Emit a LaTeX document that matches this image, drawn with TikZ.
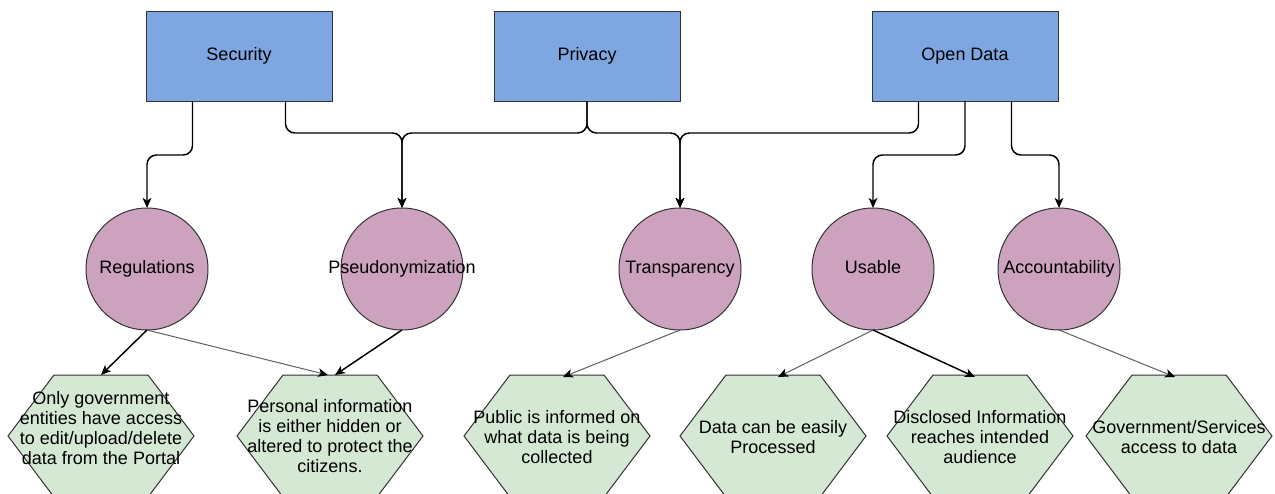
\documentclass[tikz,border=0pt]{standalone}
\usepackage{fontspec}
\setmainfont{Liberation Sans}
\usetikzlibrary{arrows.meta,calc}

\definecolor{boxblue}{RGB}{126,166,224}
\definecolor{circpink}{RGB}{205,162,190}
\definecolor{hexgreen}{RGB}{213,232,212}
\definecolor{edgegray}{RGB}{51,51,51}
\definecolor{thingray}{RGB}{95,95,95}

\tikzset{every picture/.style={line width=0.75pt}}
\tikzset{
  labelfont/.style={font=\fontsize{13.5}{15}\selectfont},
  topbox/.style={labelfont, draw=edgegray, fill=boxblue, minimum width=139.5pt, minimum height=67.5pt, inner sep=0pt, outer sep=0pt},
  goalcirc/.style={labelfont, circle, draw=edgegray, fill=circpink, minimum size=91.5pt, inner sep=0pt, outer sep=0pt, text height=9.5pt, text depth=3pt},
  hexnode/.style={labelfont, align=center, minimum width=139.5pt, minimum height=91.5pt, inner sep=0pt, outer sep=0pt},
  hexshape/.style={draw=edgegray, fill=hexgreen},
  tip/.style={-{Stealth[length=7.5pt,width=6.5pt,inset=2pt,color=black]}},
  link/.style={tip, line width=1.1pt, rounded corners=7},
  strongarrow/.style={tip, line width=1.1pt, draw=black},
  softarrow/.style={tip, line width=0.75pt, draw=thingray}
}

\begin{document}
\begin{tikzpicture}[x=0.75pt,y=0.75pt,yscale=-1,xscale=1]
\useasboundingbox (0,0) rectangle (1275,493);

%Shape: Rectangle
\node[topbox] (sec) at (239,56) {Security};
\node[topbox] (pri) at (587,56) {Privacy};
\node[topbox] (opn) at (965,56) {Open Data};

%Shape: Ellipse
\node[goalcirc] (reg) at (147,269) {\makebox[0pt]{Regulations}};
\node[goalcirc] (pse) at (402,269) {\makebox[0pt]{Pseudonymization}};
\node[goalcirc] (tra) at (680,269) {\makebox[0pt]{Transparency}};
\node[goalcirc] (usa) at (873,269) {\makebox[0pt]{Usable}};
\node[goalcirc] (acc) at (1059,269) {\makebox[0pt]{Accountability}};

%Shape: Hexagon
\foreach \cx in {101,330,557,773,980,1179}
  \draw[hexshape] (\cx-93,436) -- (\cx-47,375) -- (\cx+47,375) -- (\cx+93,436) -- (\cx+47,497) -- (\cx-47,497) -- cycle;

% Text Node
\node[hexnode, yshift=6pt] (only) at (101,436) {Only government\\entities have access\\to edit/upload/delete\\data from the Portal};
\node[hexnode] (personal) at (330,436) {Personal information\\is either hidden or\\altered to protect the\\citizens.};
\node[hexnode] (public) at (557,437) {Public is informed on\\what data is being\\collected};
\node[hexnode] (easy) at (773,437) {Data can be easily\\Processed};
\node[hexnode] (disclosed) at (980,437) {Disclosed Information\\reaches intended\\audience};
\node[hexnode] (govaccess) at (1179,437) {Government/Services\\access to data};

%Curve Lines
\draw[link] ($(sec.south west)!.25!(sec.south east)$) -- ++(0,54) -| (reg.north);
\draw[link] ($(sec.south west)!.75!(sec.south east)$) -- ++(0,32) -| (pse.north);
\draw[link] (pri.south) -- ++(0,32) -| (pse.north);
\draw[link] (pri.south) -- ++(0,32) -| (tra.north);
\draw[link] ($(opn.south west)!.25!(opn.south east)$) -- ++(0,32) -| (tra.north);
\draw[link] (opn.south) -- ++(0,54) -| (usa.north);
\draw[link] ($(opn.south west)!.75!(opn.south east)$) -- ++(0,54) -| (acc.north);

%Straight Lines
\draw[strongarrow] (reg.south) -- ([yshift=6pt]only.north);
\draw[softarrow] (reg.south) -- ([xshift=-1.5pt]personal.north);
\draw[strongarrow] (pse.south) -- ([xshift=3.75pt]personal.north);
\draw[softarrow] (tra.south) -- ([xshift=4.5pt,yshift=0.75pt]public.north);
\draw[softarrow] (usa.south) -- ([xshift=3.75pt,yshift=0.75pt]easy.north);
\draw[strongarrow] (usa.south) -- ([xshift=-3.75pt,yshift=0.75pt]disclosed.north);
\draw[softarrow] (acc.south) -- ([xshift=-3pt,yshift=0.75pt]govaccess.north);

\end{tikzpicture}
\end{document}
